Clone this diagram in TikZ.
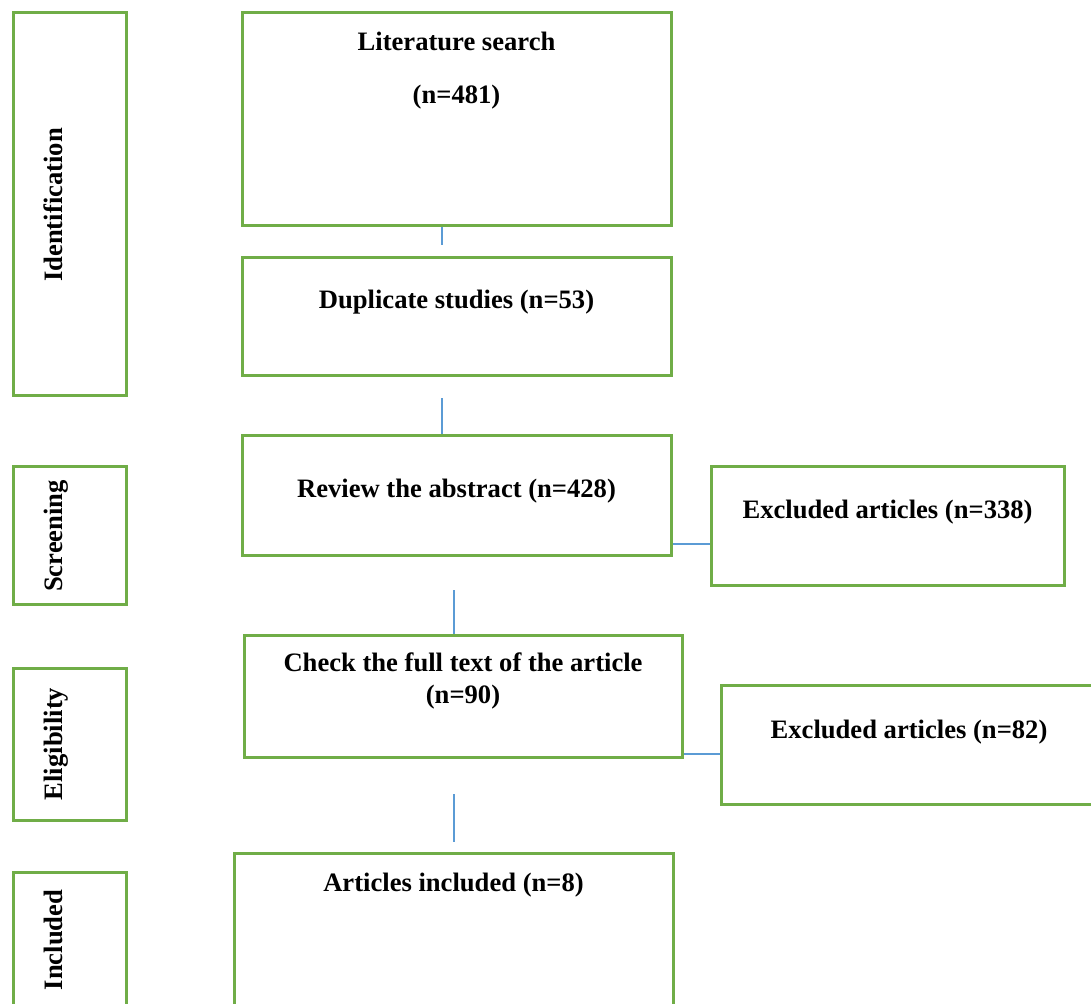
\documentclass[tikz,border=0pt]{standalone}
\usepackage{fontspec}
\setmainfont{Liberation Serif}
\definecolor{boxgreen}{RGB}{112,173,71}
\definecolor{linkblue}{RGB}{91,155,213}
\newcommand{\flowfont}{\fontsize{26.6}{30}\selectfont\bfseries}
\tikzset{
  flowbox/.style={draw=boxgreen, line width=3pt, inner sep=0pt},
  boxtext/.style={font=\flowfont, align=center, inner sep=0pt, anchor=base},
  stagetext/.style={font=\flowfont, rotate=90, anchor=base, inner sep=0pt},
  link/.style={draw=linkblue, line width=1.2pt}
}
\begin{document}
\begin{tikzpicture}[x=1pt,y=-1pt]
  \useasboundingbox (0,0) rectangle (1091,1003);
  \clip (0,0) rectangle (1091,1003);
  % stage column
  \node[flowbox, minimum width=113, minimum height=382] (ident) at (69.5,204) {};
  \node[flowbox, minimum width=113, minimum height=138] (screen) at (69.5,535) {};
  \node[flowbox, minimum width=113, minimum height=152] (elig) at (69.5,744) {};
  \node[flowbox, minimum width=113, minimum height=160] (incl) at (69.5,952) {};
  \node[stagetext] (identlabel) at (62,205) {Identification};
  \node[stagetext] (screenlabel) at (62,536) {Screening};
  \node[stagetext] (eliglabel) at (62,744) {Eligibility};
  \node[stagetext] (incllabel) at (62,940) {Included};
  % flow column
  \node[flowbox, minimum width=429, minimum height=212] (lit) at (456.5,119) {};
  \node[flowbox, minimum width=429, minimum height=118] (dup) at (456.5,316) {};
  \node[flowbox, minimum width=429, minimum height=120] (review) at (456.5,495) {};
  \node[flowbox, minimum width=438, minimum height=122] (full) at (463,696) {};
  \node[flowbox, minimum width=439, minimum height=180] (arts) at (453.5,943) {};
  \node[flowbox, minimum width=353, minimum height=119] (excl1) at (887.5,525.5) {};
  \node[flowbox, minimum width=376, minimum height=119] (excl2) at (909,744.5) {};
  \node[boxtext] (littext) at ([yshift=-92pt]lit.north) {Literature search\\[23pt](n=481)};
  \node[boxtext] (duptext) at ([yshift=-53pt]dup.north) {Duplicate studies (n=53)};
  \node[boxtext] (reviewtext) at ([yshift=-64pt]review.north) {Review the abstract (n=428)};
  \node[boxtext] (fulltext) at ([yshift=-70pt]full.north) {Check the full text of the article\\[2pt](n=90)};
  \node[boxtext] (artstext) at ([yshift=-40pt]arts.north) {Articles included (n=8)};
  \node[boxtext] (excl1text) at ([yshift=-54pt]excl1.north) {Excluded articles (n=338)};
  \node[boxtext] (excl2text) at ([yshift=-55pt]excl2.north) {Excluded articles (n=82)};
  % connectors
  \coordinate (gap1) at (442,245);
  \coordinate (gap2) at (442,398);
  \coordinate (gap3) at (454,590);
  \coordinate (gap4) at (454,794);
  \coordinate (gap5) at (454,842);
  \coordinate (cut1) at (0,544);
  \coordinate (cut2) at (0,754);
  \draw[link] (lit.south -| gap1) -- (gap1);
  \draw[link] (gap2) -- (review.north -| gap2);
  \draw[link] (gap3) -- (full.north -| gap3);
  \draw[link] (gap4) -- (gap5);
  \draw[link] (review.east |- cut1) -- (excl1.west |- cut1);
  \draw[link] (full.east |- cut2) -- (excl2.west |- cut2);
\end{tikzpicture}
\end{document}
